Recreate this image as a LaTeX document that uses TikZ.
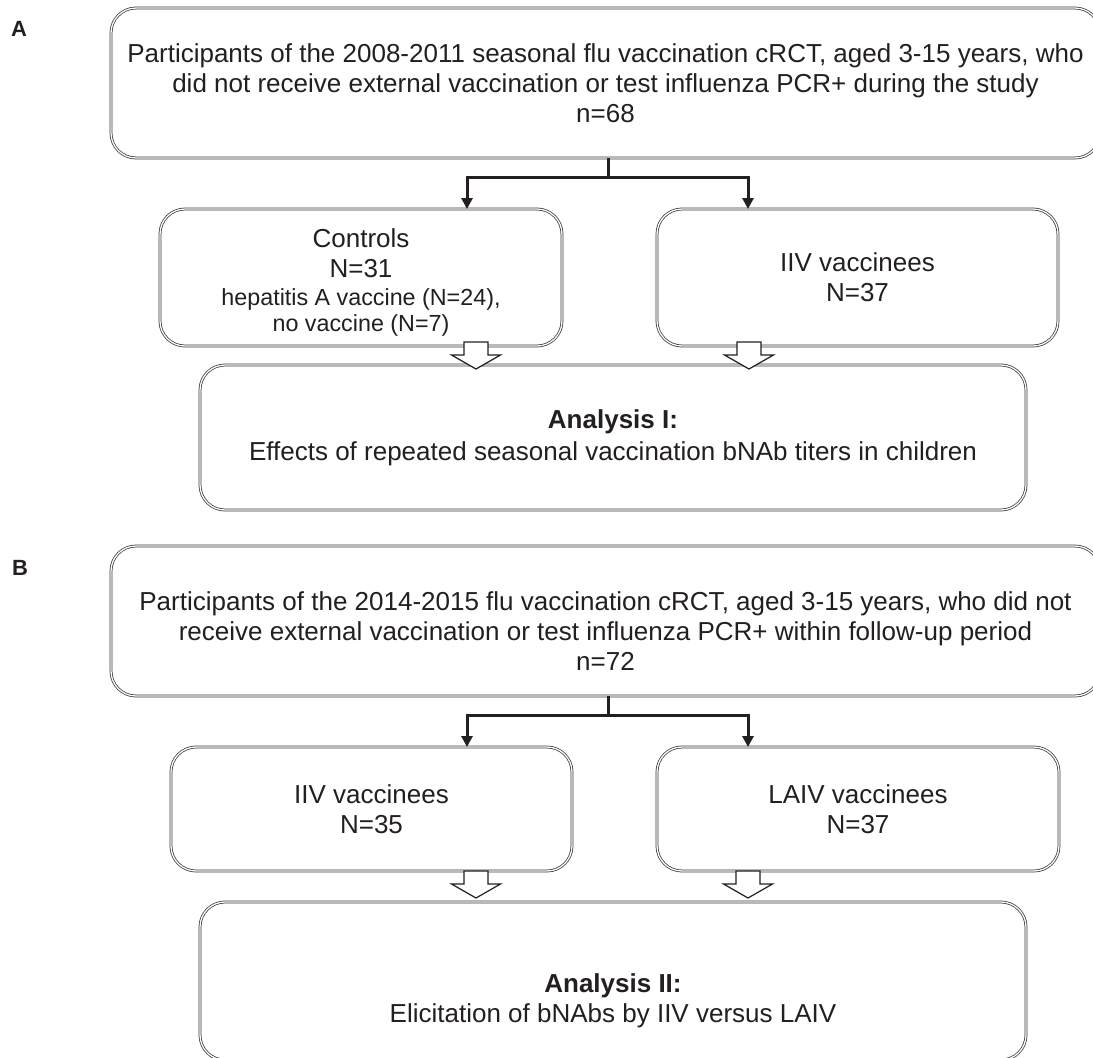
\documentclass[tikz,border=0pt]{standalone}
\usepackage{fontspec}
\setmainfont{Liberation Sans}
\usetikzlibrary{arrows.meta,calc}
\definecolor{ink}{HTML}{231F20}
\newcommand\smalltxt{\fontsize{23.3}{29}\selectfont}
\begin{document}
\begin{tikzpicture}[x=1pt,y=-1pt,
  box/.style={draw=black!78, double=white, double distance=1.3pt, line width=0.75pt,
    rounded corners=25pt, align=center, text=ink, inner sep=0pt,
    font=\fontsize{26}{30}\selectfont},
  txt/.style={align=center, text=ink, inner sep=0pt, font=\fontsize{26}{30}\selectfont},
  lab/.style={text=ink, inner sep=0pt, font=\fontsize{22}{26}\selectfont\bfseries},
  split/.style={draw=ink, line width=3pt, -{Triangle[length=11pt,width=11pt]}},
  stem/.style={draw=ink, line width=3pt},
  blk/.style={draw=ink, fill=white, line width=1.2pt, line join=miter}]
\useasboundingbox (0,0) rectangle (1093,1058);
\clip (0,0) rectangle (1093,1058);
\fill[white] (0,0) rectangle (1093,1058);

% ---------- Panel A ----------
\node[lab, anchor=base west] (labA) at (11,36) {A};
\node[box, minimum width=989pt, minimum height=150pt] (topA) at (605.5,83)
  {Participants of the 2008-2011 seasonal flu vaccination cRCT, aged 3-15 years, who\\
   did not receive external vaccination or test influenza PCR+ during the study\\ n=68};
\node[box, minimum width=402pt, minimum height=137pt] (ctrl) at (361,277.5) {};
\node[txt] (ctrltxt) at (361,282)
  {Controls\\N=31\\[-2pt]{\smalltxt hepatitis A vaccine (N=24),}\\[-4pt]{\smalltxt no vaccine (N=7)}};
\node[box, minimum width=401pt, minimum height=137pt] (iivA) at (857.5,277.5)
  {IIV vaccinees\\N=37};
\node[box, minimum width=826pt, minimum height=145pt] (anaI) at (613,437.5)
  {\textbf{Analysis I:}\\[2pt]Effects of repeated seasonal vaccination bNAb titers in children};

\coordinate (jA) at (608,177);
\coordinate (aL) at (467,209);
\coordinate (aR) at (748,209);
\draw[stem] (topA.south -| jA) -- (jA);
\draw[split] (jA) -| (aL);
\draw[split] (jA) -| (aR);

\coordinate (tA1) at (476,369);
\coordinate (tA2) at (749,369);
\foreach \t in {tA1,tA2}
  \draw[blk] (\t) -- ++(-24.5,-14) -- ++(12.5,0) -- ++(0,-13) -- ++(24,0) -- ++(0,13) -- ++(12.5,0) -- cycle;

% ---------- Panel B ----------
\node[lab, anchor=base west] (labB) at (12,575) {B};
\node[box, minimum width=989pt, minimum height=150pt] (topB) at (605.5,621) {};
\node[txt] (topBtxt) at (605.5,631)
  {Participants of the 2014-2015 flu vaccination cRCT, aged 3-15 years, who did not\\
   receive external vaccination or test influenza PCR+ within follow-up period\\ n=72};
\node[box, minimum width=401pt, minimum height=124pt] (iivB) at (371.5,809)
  {IIV vaccinees\\N=35};
\node[box, minimum width=402pt, minimum height=124pt] (laiv) at (858,809)
  {LAIV vaccinees\\N=37};
\node[box, minimum width=826pt, minimum height=158pt] (anaII) at (613,981) {};
\node[txt] (anaIItxt) at (613,1001)
  {\textbf{Analysis II:}\\Elicitation of bNAbs by IIV versus LAIV};

\coordinate (jB) at (608,715);
\coordinate (bL) at (467,747);
\coordinate (bR) at (748,747);
\draw[stem] (topB.south -| jB) -- (jB);
\draw[split] (jB) -| (bL);
\draw[split] (jB) -| (bR);

\coordinate (tB1) at (476,898);
\coordinate (tB2) at (748,898);
\foreach \t in {tB1,tB2}
  \draw[blk] (\t) -- ++(-24.5,-14) -- ++(12.5,0) -- ++(0,-13) -- ++(24,0) -- ++(0,13) -- ++(12.5,0) -- cycle;
\end{tikzpicture}
\end{document}
